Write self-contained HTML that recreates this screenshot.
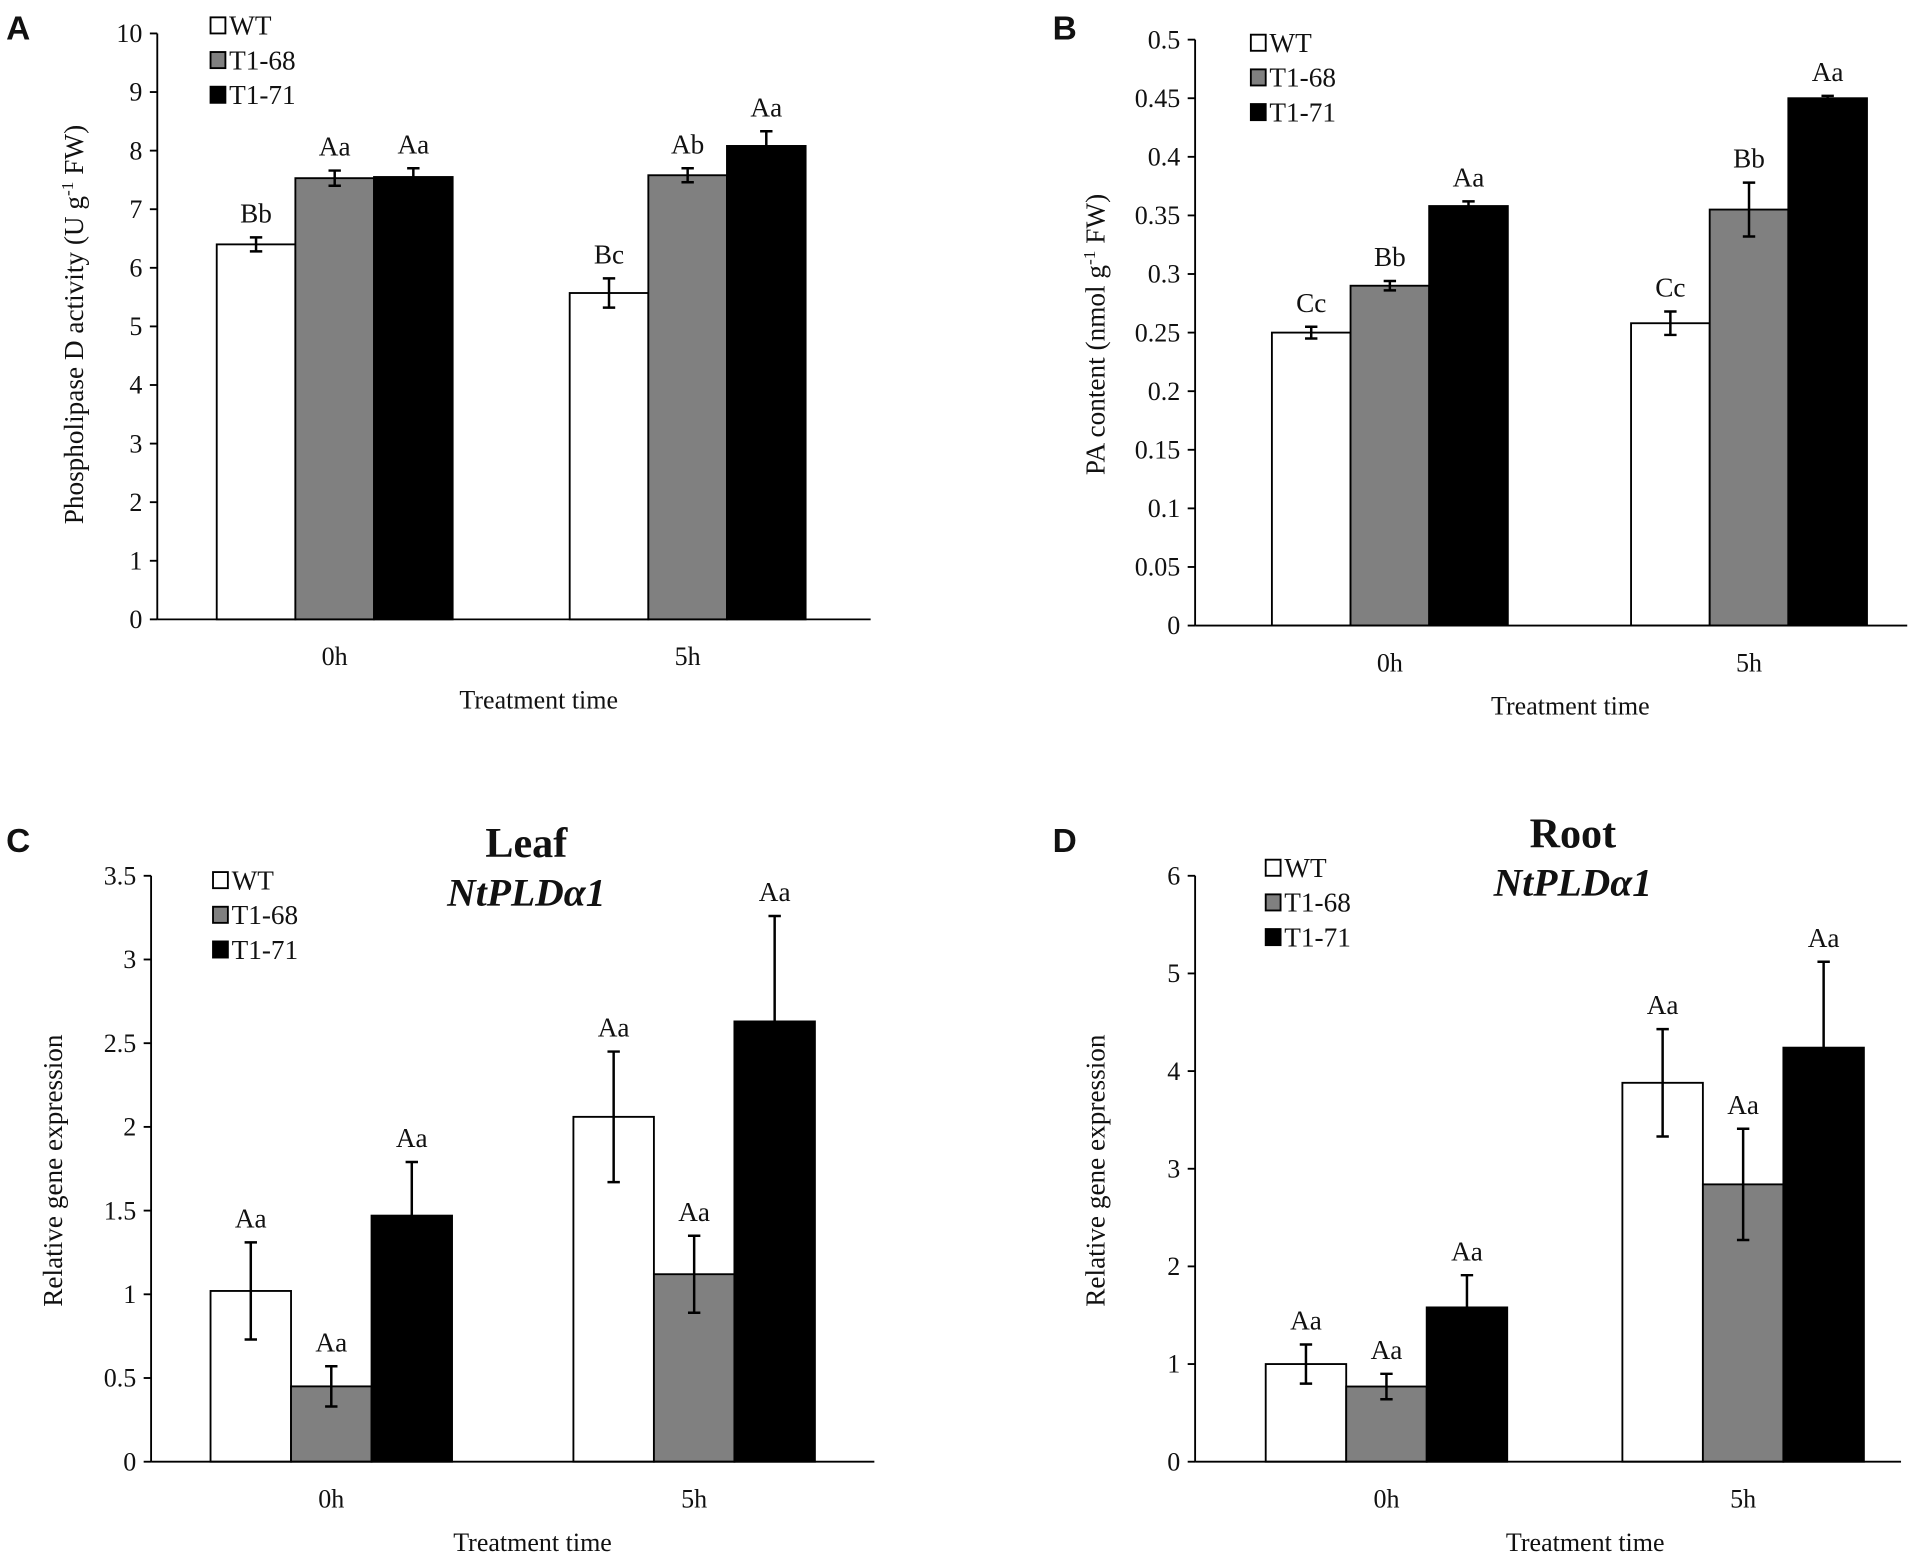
<!DOCTYPE html>
<html><head><meta charset="utf-8"><style>
html,body{margin:0;padding:0;background:#fff;}
svg{display:block;}
text{font-family:"Liberation Serif",serif;fill:#111;}
</style></head><body>
<svg id="fig" width="1932" height="1567" viewBox="0 0 1560 1265" preserveAspectRatio="none" xmlns="http://www.w3.org/2000/svg"></svg>
<script>
const groups = ["0h","5h"];
const seriesNames = ["WT","T1-68","T1-71"];
const aWT = [6.4,5.57], aT68 = [7.53,7.58], aT71 = [7.55,8.08];
const aErrWT = [0.12,0.25], aErrT68 = [0.13,0.12], aErrT71 = [0.15,0.25];
const aLetters = [["Bb","Bc"],["Aa","Ab"],["Aa","Aa"]];
const aTicks = ["0","1","2","3","4","5","6","7","8","9","10"];
const bWT = [0.25,0.258], bT68 = [0.29,0.355], bT71 = [0.358,0.45];
const bErrWT = [0.005,0.01], bErrT68 = [0.004,0.023], bErrT71 = [0.004,0.002];
const bLetters = [["Cc","Cc"],["Bb","Bb"],["Aa","Aa"]];
const bTicks = ["0","0.05","0.1","0.15","0.2","0.25","0.3","0.35","0.4","0.45","0.5"];
const cWT = [1.02,2.06], cT68 = [0.45,1.12], cT71 = [1.47,2.63];
const cErrWT = [0.29,0.39], cErrT68 = [0.12,0.23], cErrT71 = [0.32,0.63];
const cLetters = [["Aa","Aa"],["Aa","Aa"],["Aa","Aa"]];
const cTicks = ["0","0.5","1","1.5","2","2.5","3","3.5"];
const dWT = [1.0,3.88], dT68 = [0.77,2.84], dT71 = [1.58,4.24];
const dErrWT = [0.2,0.55], dErrT68 = [0.13,0.57], dErrT71 = [0.33,0.88];
const dLetters = [["Aa","Aa"],["Aa","Aa"],["Aa","Aa"]];
const dTicks = ["0","1","2","3","4","5","6"];

const NS="http://www.w3.org/2000/svg";
const svg=document.getElementById('fig');
function mk(tag,attrs,parent,txt){const e=document.createElementNS(NS,tag);for(const k in attrs)e.setAttribute(k,attrs[k]);if(txt!==undefined)e.textContent=txt;(parent||svg).appendChild(e);return e;}
const fills=["#ffffff","#808080","#000000"];

function panel(cfg){
  const g=mk('g',{});
  
  
  const max=parseFloat(cfg.ticks[cfg.ticks.length-1]);
  const y=v=>cfg.y0-(v/max)*(cfg.y0-cfg.yTop);
  const pl=mk('text',{x:cfg.lx,y:cfg.ly,'font-size':27,'font-weight':'bold',style:'font-family:"Liberation Sans",sans-serif'},g,cfg.id);
  
  
  cfg.ticks.forEach(t=>{const v=parseFloat(t);const yy=y(v);
    mk('line',{x1:cfg.ax-6,x2:cfg.ax,y1:yy,y2:yy,stroke:'#000','stroke-width':1.5},g);
    const tl=mk('text',{x:cfg.ax-12,y:yy+7,'font-size':21,'text-anchor':'end'},g,t);
    
    
  });
  const vals=[cfg.wt,cfg.t68,cfg.t71], errs=[cfg.ewt,cfg.e68,cfg.e71];
  groups.forEach((gn,gi)=>{
    for(let s=0;s<3;s++){
      const x0=cfg.gx[gi]+s*cfg.bw;
      const yy=y(vals[s][gi]);
      const r=mk('rect',{x:x0,y:yy,width:cfg.bw,height:cfg.y0-yy,fill:fills[s],stroke:'#000','stroke-width':1.5},g);
      
      
      const cx=x0+cfg.bw/2, top=y(vals[s][gi]+errs[s][gi]), bot=y(vals[s][gi]-errs[s][gi]);
      const eb=mk('path',{d:`M${cx},${top}V${bot}M${cx-5},${top}H${cx+5}M${cx-5},${bot}H${cx+5}`,stroke:'#000','stroke-width':2,fill:'none'},g);
      
      
      const lt=mk('text',{x:cx,y:top-12,'font-size':22,'text-anchor':'middle'},g,cfg.letters[s][gi]);
      
      
    }
    const xl=mk('text',{x:cfg.gx[gi]+1.5*cfg.bw,y:cfg.y0+37,'font-size':21,'text-anchor':'middle'},g,gn);
    
    
  });
  mk('line',{x1:cfg.ax,x2:cfg.ax,y1:cfg.yTop,y2:cfg.y0,stroke:'#000','stroke-width':1.5},g);
  mk('line',{x1:cfg.ax,x2:cfg.axEnd,y1:cfg.y0,y2:cfg.y0,stroke:'#000','stroke-width':1.5},g);
  const xt=mk('text',{x:cfg.xtX,y:cfg.y0+72,'font-size':21,'text-anchor':'middle'},g,'Treatment time');
  
  
  const yt=mk('text',{x:0,y:0,'font-size':22,'text-anchor':'middle',transform:`translate(${cfg.ytX},${cfg.ytY}) rotate(-90)`},g);
  
  
  if(cfg.sup){ yt.appendChild(document.createTextNode(cfg.ytitle[0]));
    mk('tspan',{'font-size':14,dy:-8},yt,'-1'); mk('tspan',{dy:8},yt,cfg.ytitle[1]); }
  else yt.textContent=cfg.ytitle;
  seriesNames.forEach((n,s)=>{
    const yy=cfg.legY+s*28;
    const lb=mk('rect',{x:cfg.legX,y:yy-14,width:12,height:13,fill:fills[s],stroke:'#000','stroke-width':1.5},g);
    
    
    const lt=mk('text',{x:cfg.legX+15,y:yy,'font-size':22},g,n);
    
    
  });
  if(cfg.title){
    const t1=mk('text',{x:cfg.tx,y:cfg.ty,'font-size':34,'font-weight':'bold','text-anchor':'middle'},g,cfg.title);
    
    
    const t2=mk('text',{x:cfg.tx,y:cfg.ty+39,'font-size':32,'font-weight':'bold','font-style':'italic','text-anchor':'middle'},g,'NtPLDα1');
    
    
  }
}
panel({id:'A',lx:5,ly:32,ax:127,axEnd:703,y0:500,yTop:27,ticks:aTicks,gx:[175,460],bw:63.5,
  wt:aWT,t68:aT68,t71:aT71,ewt:aErrWT,e68:aErrT68,e71:aErrT71,letters:aLetters,
  xtX:435,ytX:67,ytY:262,sup:true,ytitle:['Phospholipase D activity  (U g',' FW)'],legX:170,legY:28});
panel({id:'B',lx:850,ly:32,ax:965,axEnd:1540,y0:505,yTop:32,ticks:bTicks,gx:[1027,1317],bw:63.5,
  wt:bWT,t68:bT68,t71:bT71,ewt:bErrWT,e68:bErrT68,e71:bErrT71,letters:bLetters,
  xtX:1268,ytX:892,ytY:270,sup:true,ytitle:['PA content (nmol g',' FW)'],legX:1010,legY:42});
panel({id:'C',lx:5,ly:688,ax:122,axEnd:706,y0:1180,yTop:707,ticks:cTicks,gx:[170,463],bw:65,
  wt:cWT,t68:cT68,t71:cT71,ewt:cErrWT,e68:cErrT68,e71:cErrT71,letters:cLetters,
  xtX:430,ytX:50,ytY:945,sup:false,ytitle:'Relative gene expression',legX:172,legY:718,title:'Leaf',tx:425,ty:692});
panel({id:'D',lx:850,ly:688,ax:965,axEnd:1535,y0:1180,yTop:707,ticks:dTicks,gx:[1022,1310],bw:65,
  wt:dWT,t68:dT68,t71:dT71,ewt:dErrWT,e68:dErrT68,e71:dErrT71,letters:dLetters,
  xtX:1280,ytX:892,ytY:945,sup:false,ytitle:'Relative gene expression',legX:1022,legY:708,title:'Root',tx:1270,ty:684});
</script>
</body></html>
